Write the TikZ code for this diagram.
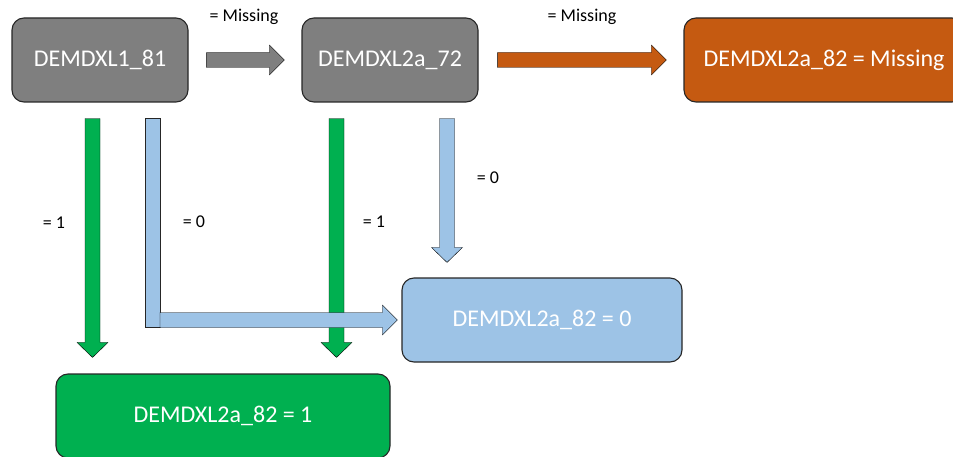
\documentclass[tikz,border=0pt]{standalone}
\usepackage{fontspec}
\setmainfont{Carlito}
\usepackage{tikz}
\usetikzlibrary
  {
    calc,        % offsets from nodes and coordinates
    positioning, % place nodes relative to other nodes
  }

\definecolor{boxgray}{HTML}{7F7F7F}
\definecolor{boxorange}{HTML}{C55A11}
\definecolor{boxgreen}{HTML}{00B050}
\definecolor{boxblue}{HTML}{9DC3E6}
\definecolor{edge}{HTML}{262626}

\begin{document}
\begin{tikzpicture}
    [
      x=1pt,
      y=-1pt,
      value/.style=
        {
          rectangle,
          rounded corners=12pt,
          draw=edge,
          line width=1.1pt,
          minimum height=84pt,
          text=white,
          font=\fontsize{24}{28}\selectfont,
        },
      cond/.style=
        {
          inner sep=0pt,
          text=black,
          font=\fontsize{18}{22}\selectfont,
        },
      fat/.style=
        {
          draw=edge,
          line width=0.9pt,
          line join=miter,
        },
      block right/.style=
        {
          fat,
          to path={($(\tikztostart)+(0,-7.5)$) -- ($(\tikztotarget)+(-15,-7.5)$)
            -- ($(\tikztotarget)+(-15,-15)$) -- (\tikztotarget)
            -- ($(\tikztotarget)+(-15,15)$) -- ($(\tikztotarget)+(-15,7.5)$)
            -- ($(\tikztostart)+(0,7.5)$) -- cycle},
        },
      block down/.style=
        {
          fat,
          to path={($(\tikztostart)+(-7.5,0)$) -- ($(\tikztotarget)+(-7.5,-15)$)
            -- ($(\tikztotarget)+(-15.5,-15)$) -- (\tikztotarget)
            -- ($(\tikztotarget)+(15.5,-15)$) -- ($(\tikztotarget)+(7.5,-15)$)
            -- ($(\tikztostart)+(7.5,0)$) -- cycle},
        },
    ]
    \useasboundingbox (0,0) rectangle (953,457);

    % the boxes
    \node[value, fill=boxgray,   minimum width=176pt] (l1 81)  at (100,60)  {DEMDXL1\_81};
    \node[value, fill=boxgray,   minimum width=176pt] (l2a 72) at (390,60)  {DEMDXL2a\_72};
    \node[value, fill=boxorange, minimum width=280pt] (missing) at (824,60) {DEMDXL2a\_82 = Missing};
    \node[value, fill=boxblue,   minimum width=280pt] (zero)    at (542,320) {DEMDXL2a\_82 = 0};
    \node[value, fill=boxgreen,  minimum width=334pt] (one)     at (223,416) {DEMDXL2a\_82 = 1};

    % ends of the block arrows
    \coordinate (miss1 start) at ($(l1 81.east)+(18,0)$);
    \coordinate (miss1 end)   at ($(l2a 72.west)+(-17,0)$);
    \coordinate (miss2 start) at ($(l2a 72.east)+(19,0)$);
    \coordinate (miss2 end)   at ($(missing.west)+(-17,0)$);
    \coordinate (one1 start)  at ($(l1 81.south)+(-7.5,16)$);
    \coordinate (one1 end)    at ($(one1 start |- one.north)+(0,-16)$);
    \coordinate (zero1 start) at ($(l1 81.south)+(52.5,16)$);
    \coordinate (zero1 bend)  at (zero1 start |- zero.west);
    \coordinate (zero1 end)   at ($(zero.west)+(-4,0)$);
    \coordinate (one2 start)  at ($(l2a 72.south)+(-53.5,16)$);
    \coordinate (one2 end)    at ($(one2 start |- one.north)+(0,-16)$);
    \coordinate (zero2 start) at ($(l2a 72.south)+(57,16)$);
    \coordinate (zero2 end)   at ($(zero2 start |- zero.north)+(0,-15)$);

    % the block arrows
    \draw[fill=boxgreen] (one1 start) to[block down] (one1 end);
    \draw[fill=boxgreen] (one2 start) to[block down] (one2 end);
    \draw[fat, fill=boxblue] ($(zero1 start)+(-7.5,0)$) rectangle ($(zero1 bend)+(7.5,7.5)$);
    \draw[fill=boxblue] ($(zero1 bend)+(7.5,0)$) to[block right] (zero1 end);
    \draw[fill=boxblue] (zero2 start) to[block down] (zero2 end);
    \draw[fill=boxgray] (miss1 start) to[block right] (miss1 end);
    \draw[fill=boxorange] (miss2 start) to[block right] (miss2 end);

    % the conditions
    \node[cond] (if missing 1) at (244,17)  {= Missing};
    \node[cond] (if missing 2) at (582,17)  {= Missing};
    \node[cond] (if one 1)     at (54,223)  {= 1};
    \node[cond] (if zero 1)    at (194,222) {= 0};
    \node[cond] (if one 2)     at (374,222) {= 1};
    \node[cond] (if zero 2)    at (488,178) {= 0};
\end{tikzpicture}
\end{document}
